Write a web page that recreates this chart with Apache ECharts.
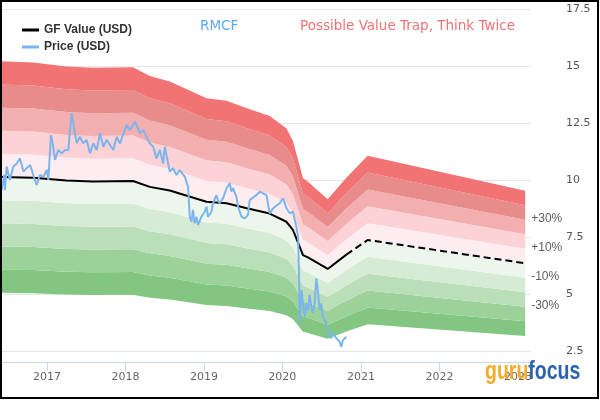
<!DOCTYPE html>
<html><head><meta charset="utf-8">
<script src="https://cdn.jsdelivr.net/npm/echarts@6/dist/echarts.min.js"></script>
<style>html,body{margin:0;padding:0;background:#fff}#c{width:600px;height:420px}</style>
</head><body><div id="c"></div>
<script>
const priceDates = ['2016-05-28','2016-06-04','2016-06-15','2016-06-19','2016-06-27','2016-07-12','2016-07-28','2016-08-13','2016-08-28','2016-09-13','2016-09-28','2016-10-14','2016-10-29','2016-11-14','2016-11-29','2016-12-15','2016-12-31',
'2017-01-07','2017-01-19','2017-01-27','2017-02-07','2017-02-22','2017-03-10','2017-03-25','2017-04-10','2017-04-25','2017-05-03','2017-05-19','2017-06-03','2017-06-18','2017-07-04','2017-07-20','2017-08-04','2017-08-20','2017-09-04','2017-09-20','2017-10-05','2017-11-05','2017-11-21','2017-12-06',
'2018-01-06','2018-01-22','2018-02-14','2018-03-09','2018-03-24','2018-04-24','2018-05-10','2018-05-25','2018-06-10','2018-06-25','2018-07-03','2018-07-26','2018-08-10','2018-08-26','2018-09-10','2018-10-04','2018-10-19','2018-10-27','2018-11-04','2018-11-11','2018-11-19','2018-11-27','2018-12-05','2018-12-20',
'2019-01-05','2019-01-13','2019-01-20','2019-02-05','2019-02-12','2019-02-28','2019-03-07','2019-03-15','2019-03-31','2019-04-16','2019-05-01','2019-05-09','2019-05-16','2019-06-01','2019-06-09','2019-06-25','2019-07-10','2019-07-25','2019-08-02','2019-09-02','2019-09-18','2019-10-19','2019-11-03','2019-11-19','2019-12-20',
'2020-01-04','2020-01-20','2020-02-04','2020-02-19','2020-03-06','2020-03-14','2020-03-18','2020-03-22','2020-03-30','2020-04-06','2020-04-14','2020-04-22','2020-04-29','2020-05-07','2020-05-15','2020-05-22','2020-05-30','2020-06-07','2020-06-14','2020-06-22','2020-06-30','2020-07-07','2020-07-23','2020-07-30','2020-08-15','2020-08-23','2020-09-08','2020-09-23','2020-10-01','2020-10-09','2020-10-25'];
const priceValues = [10.10,9.58,10.24,9.58,10.61,10.02,10.61,10.75,10.97,10.39,10.54,10.68,10.24,9.80,10.24,10.17,10.46,
10.02,12.00,11.63,10.90,11.34,11.19,11.34,11.34,12.95,12.51,11.63,11.92,11.63,11.78,11.19,11.63,11.34,12.07,11.48,11.78,11.34,11.92,11.63,
12.43,12.21,12.58,12.07,12.21,11.63,11.48,10.97,11.34,10.75,11.48,10.39,10.54,10.24,10.46,10.17,9.73,8.41,8.19,8.71,8.12,8.41,8.05,8.41,
8.63,8.85,8.41,8.63,9.00,9.36,9.14,9.00,9.22,9.66,9.88,9.51,9.66,9.29,8.85,8.41,8.34,8.49,9.14,9.36,9.51,9.36,8.56,8.78,9.00,
9.22,8.78,8.56,8.63,7.97,7.54,6.07,3.74,5.20,4.61,4.03,4.61,4.32,4.98,4.46,4.18,4.61,5.71,5.20,4.32,4.61,4.03,3.74,3.44,3.08,3.30,3.08,2.93,2.71,3.00,3.15];

const gfDates = ['2016-05-27','2016-10-29','2017-04-01','2017-08-01','2018-02-05','2018-04-24','2018-07-26','2019-01-13','2019-04-16','2019-07-20','2019-11-03','2020-01-20','2020-02-19','2020-04-06','2020-04-29','2020-07-30','2020-10-25','2021-02-01','2023-02-04'];
const gfValues = [10.15,10.12,10.0,9.96,9.98,9.72,9.56,9.07,9.0,8.78,8.55,8.19,7.83,6.73,6.63,6.12,6.75,7.39,6.37];
const lastPriceDate = '2020-10-25';

// band boundaries as multiples of GF Value (bottom to top), and fill colours
const bandBase = 0.5;
const bandStep = 0.1;
const bandColors = ['#82c682','#9cd19a','#badfb8','#d5ebd3','#edf6ec','#fdedf0','#fcd2d6','#f3afaf','#e88b8b','#f17373'];
const pctLabels = ['+30%','+10%','-10%','-30%'];
const pctLevels = [1.3,1.1,0.9,0.7];

const xMin = '2016-05-27', xMax = '2023-03-03';
const yMin = 2.5, yMax = 17.5, yInterval = 2.5;

const series = [];
series.push({
  type:'line', stack:'band', symbol:'none', silent:true, z:1,
  lineStyle:{width:0, opacity:0},
  data: gfDates.map((d,i)=>[d, gfValues[i]*bandBase])
});
bandColors.forEach((c)=>{
  series.push({
    type:'line', stack:'band', symbol:'none', silent:true, z:1,
    lineStyle:{width:0, opacity:0},
    areaStyle:{color:c, opacity:1},
    data: gfDates.map((d,i)=>[d, gfValues[i]*bandStep])
  });
});
const gfSolid = [], gfDashed = [];
gfDates.forEach((d,i)=>{
  if (d <= lastPriceDate) gfSolid.push([d, gfValues[i]]);
  if (d >= lastPriceDate) gfDashed.push([d, gfValues[i]]);
});
series.push({name:'GF Value (USD)', type:'line', symbol:'none', z:3, itemStyle:{color:'#000'},
  lineStyle:{color:'#000', width:2}, data:gfSolid});
series.push({name:'GF Value (USD)', type:'line', symbol:'none', z:3, itemStyle:{color:'#000'},
  lineStyle:{color:'#000', width:2, type:[7,4]}, data:gfDashed});
series.push({name:'Price (USD)', type:'line', symbol:'none', z:4, itemStyle:{color:'#7cb5ec'},
  lineStyle:{color:'#7cb5ec', width:2}, data: priceDates.map((d,i)=>[d, priceValues[i]])});
const lastGF = gfValues[gfValues.length-1], lastGFDate = gfDates[gfDates.length-1];
series.push({type:'scatter', symbolSize:0, silent:true, z:5,
  label:{show:true, position:'right', distance:6, offset:[0,-1], color:'#333', fontSize:12, fontFamily:'Liberation Sans',
    formatter:(p)=>pctLabels[p.dataIndex]},
  data: pctLevels.map(k=>[lastGFDate, lastGF*k])});

const chart = echarts.init(document.getElementById('c'), null, {renderer:'canvas'});
chart.setOption({
  animation:false,
  backgroundColor:'#fff',
  title:[
    {text:'RMCF', left:200, top:19, padding:0, textStyle:{color:'#5da8ef', fontSize:13.5, fontWeight:'normal', fontFamily:'DejaVu Sans'}},
    {text:'Possible Value Trap, Think Twice', left:300, top:19, padding:0, textStyle:{color:'#f07272', fontSize:13.5, fontWeight:'normal', fontFamily:'DejaVu Sans'}}
  ],
  legend:{left:22, top:24, orient:'vertical', padding:0, itemWidth:17, itemHeight:3, itemGap:5, icon:'rect', selectedMode:false,
    textStyle:{fontFamily:'Liberation Sans', fontWeight:'bold', fontSize:12, color:'#333'},
    data:[{name:'GF Value (USD)', itemStyle:{color:'#000'}}, {name:'Price (USD)', itemStyle:{color:'#7cb5ec'}}]},
  grid:{left:0, right:69, top:9.5, bottom:68.5, containLabel:false},
  xAxis:{type:'time', min:xMin, max:xMax, offset:11, splitNumber:7,
    minInterval:365*86400000,
    axisLine:{show:true, lineStyle:{color:'#ccd6eb', width:1}},
    axisTick:{show:true, length:9, lineStyle:{color:'#ccd6eb'}},
    axisLabel:{color:'#666', fontSize:11, fontFamily:'DejaVu Sans', margin:9,
      formatter:(v)=>String(new Date(v).getFullYear())},
    splitLine:{show:false}},
  yAxis:{type:'value', position:'right', min:yMin, max:yMax, interval:yInterval,
    axisLine:{show:false}, axisTick:{show:false},
    axisLabel:{color:'#555', fontSize:11, fontFamily:'DejaVu Sans', margin:35},
    splitLine:{lineStyle:{color:'#e6e6e6', width:1}}},
  graphic:[
    {type:'text', x:485, y:372, scaleX:0.75, z:100, style:{text:'{a|guru}{b|focus}', verticalAlign:'middle', opacity:0.95,
      rich:{a:{fill:'#f5a81c', fontSize:26, fontWeight:'bold', fontFamily:'Liberation Sans'},
            b:{fill:'#1f5ca8', fontSize:26, fontWeight:'bold', fontFamily:'Liberation Sans'}}}},
    {type:'rect', z:101, shape:{x:1, y:1, width:597, height:397}, style:{fill:'none', stroke:'#000', lineWidth:2}}
  ],
  series: series
});
</script></body></html>
